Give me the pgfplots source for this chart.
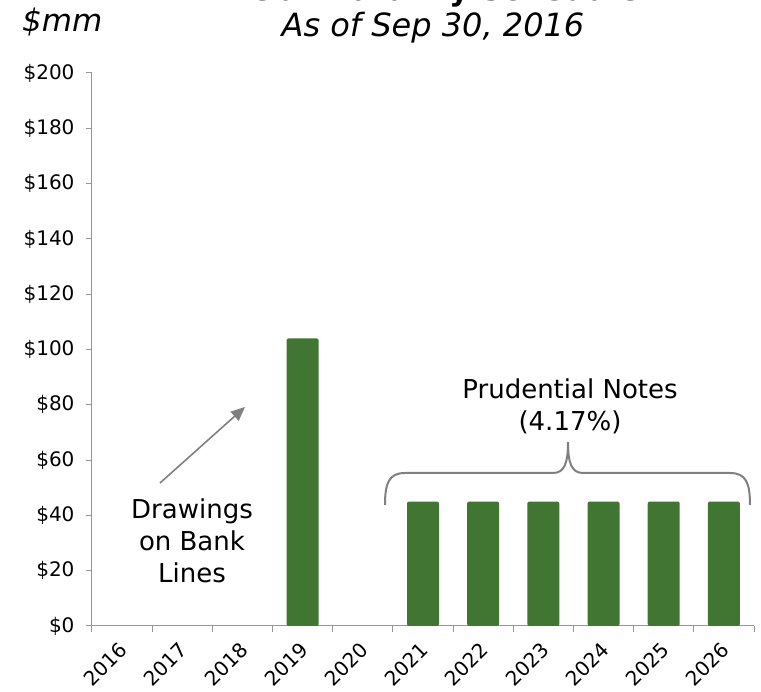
\documentclass[border=0pt]{standalone}
\usepackage{fontspec}
\setmainfont{DejaVu Sans}
\usepackage{pgfplots}
\pgfplotsset{compat=1.18}
\usetikzlibrary{arrows.meta}
\definecolor{barGreen}{RGB}{64,118,49}
\definecolor{axGray}{RGB}{150,150,150}
\definecolor{annGray}{RGB}{128,128,128}
\begin{document}
\begin{tikzpicture}
\useasboundingbox (-92pt,-66pt) rectangle (669pt,626pt);
\begin{axis}[
  at={(0pt,0pt)}, anchor=south west,
  scale only axis, width=662pt, height=553pt,
  xmin=-0.5, xmax=10.5, ymin=0, ymax=200,
  axis lines=left, axis line style={-, draw=axGray, line width=1pt},
  clip=false,
  ytick={0,20,...,200},
  minor ytick={0,20,...,200},
  yticklabel={\$\pgfmathprintnumber{\tick}},
  /pgf/number format/assume math mode=true,
  yticklabel style={font=\fontsize{20}{24}\selectfont, xshift=-14pt},
  tick align=outside, major tick length=0pt, minor tick length=6pt,
  tick style={draw=axGray, line width=1pt},
  xtick={0,1,...,10},
  xticklabels={2016,2017,2018,2019,2020,2021,2022,2023,2024,2025,2026},
  minor xtick={-0.5,0.5,...,10.5},
  xticklabel style={font=\fontsize{20}{24}\selectfont, yshift=-18pt, xshift=4pt, rotate=45, anchor=east},
]
\addplot[ybar, bar width=32pt, fill=barGreen, draw=none, rounded corners=2pt]
  coordinates {(3,104) (5,45) (6,45) (7,45) (8,45) (9,45) (10,45)};
\end{axis}
% titles
\node[anchor=base, font=\fontsize{31}{36}\selectfont\bfseries] at (341pt,625pt) {Debt Maturity Schedule};
\node[anchor=base, font=\fontsize{32}{38}\selectfont\itshape] at (341pt,589pt) {As of Sep 30, 2016};
\node[anchor=base west, inner sep=0pt, font=\fontsize{31}{36}\selectfont\itshape] at (-70pt,594pt) {\$mm};
% annotations
\draw[annGray, line width=1.6pt, -{Triangle[length=14pt,width=12pt]}] (68pt,143pt) -- (153pt,219pt);
\node[anchor=base, font=\fontsize{26}{32}\selectfont] at (100pt,107pt) {Drawings};
\node[anchor=base, font=\fontsize{26}{32}\selectfont] at (100pt,75pt) {on Bank};
\node[anchor=base, font=\fontsize{26}{32}\selectfont] at (100pt,43pt) {Lines};
\node[anchor=base, font=\fontsize{26}{32}\selectfont] at (478pt,227pt) {Prudential Notes};
\node[anchor=base, font=\fontsize{26}{32}\selectfont] at (478pt,195pt) {(4.17\%)};
\draw[annGray, line width=2pt]
  (293pt,121pt) .. controls (293pt,143pt) and (297pt,153pt) .. (313pt,153pt)
  -- (461pt,153pt) .. controls (472pt,153pt) and (476pt,162pt) .. (476pt,184pt)
  .. controls (476pt,162pt) and (480pt,153pt) .. (491pt,153pt)
  -- (638pt,153pt) .. controls (654pt,153pt) and (658pt,143pt) .. (658pt,121pt);
\end{tikzpicture}
\end{document}
